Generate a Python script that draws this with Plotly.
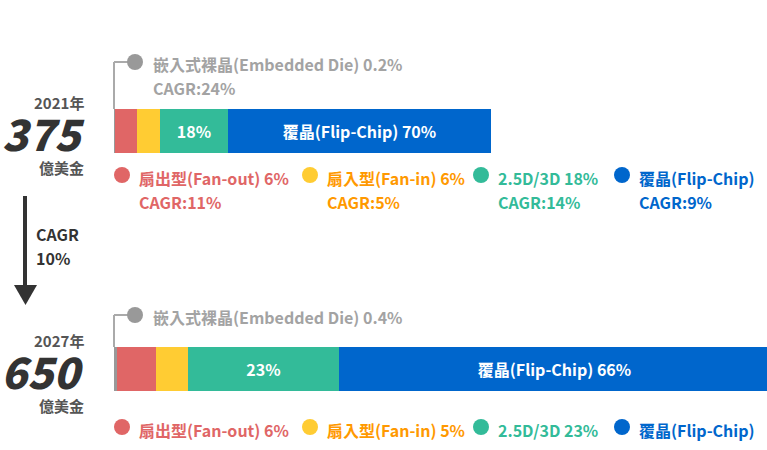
import plotly.graph_objects as go

W, H = 767, 450

# ---------------- data ----------------
years = ["2021年", "2027年"]
totals = [375, 650]                     # 億美金
total_cagr = "10%"
segments = ["嵌入式裸晶(Embedded Die)", "扇出型(Fan-out)", "扇入型(Fan-in)", "2.5D/3D", "覆晶(Flip-Chip)"]
share_2021 = [0.2, 6, 6, 18, 70]        # %
share_2027 = [0.4, 6, 5, 23, 66]        # %
segment_cagr = ["24%", "11%", "5%", "14%", "9%"]
bar_text_2021 = ["", "", "", "18%", "覆晶(Flip-Chip) 70%"]
bar_text_2027 = ["", "", "", "23%", "覆晶(Flip-Chip) 66%"]

bar_colors = ["#999999", "#e06666", "#ffcc33", "#33bb99", "#0066cc"]
text_colors = ["#a3a3a3", "#e06666", "#ff9900", "#33bb99", "#0066cc"]

FONT = "Noto Sans CJK TC"
FS = 16

# ---------------- helpers (pixel -> paper) ----------------
def px(x):
    return x / W

def py(y):
    return 1 - y / H

fig = go.Figure()

shares = [share_2021, share_2027]
texts = [bar_text_2021, bar_text_2027]
for i, seg in enumerate(segments):
    fig.add_trace(go.Bar(
        y=[0, 1],
        x=[shares[k][i] / 100 * totals[k] for k in range(2)],
        orientation="h",
        width=0.185,
        marker=dict(color=bar_colors[i], line=dict(width=0)),
        text=[texts[k][i] for k in range(2)],
        textposition="inside",
        insidetextanchor="middle",
        textfont=dict(family=FONT, size=FS, color="white", weight=700),
        constraintext="none",
        name=seg,
        showlegend=False,
        hoverinfo="skip",
    ))

# axes: bars start at pixel 114, 650 reaches right edge
plot_w = W - 114
x0 = -114 * totals[1] / plot_w
fig.update_xaxes(range=[x0, totals[1]], visible=False, fixedrange=True)
# y: bar 0 center at 131px, bar 1 center at 369px
gap = 369 - 131
r_top = -131 / gap
r_bot = r_top + H / gap
fig.update_yaxes(range=[r_bot, r_top], visible=False, fixedrange=True)

shapes = []
ann = []

def text(x, y, s, size=FS, color="#555", anchor="left", weight=700, family=FONT,
         italic=False):
    ann.append(dict(
        x=px(x), y=py(y), xref="paper", yref="paper", text=s, showarrow=False,
        xanchor=anchor, yanchor="middle",
        font=dict(family=family, size=size, color=color, weight=weight,
                  style="italic" if italic else "normal"),
    ))

def dot(cx, cy, r, color):
    shapes.append(dict(type="circle", xref="paper", yref="paper",
                       x0=px(cx - r), x1=px(cx + r), y0=py(cy + r), y1=py(cy - r),
                       fillcolor=color, line=dict(width=0), layer="above"))

def line(xa, ya, xb, yb, color, width):
    shapes.append(dict(type="line", xref="paper", yref="paper",
                       x0=px(xa), y0=py(ya), x1=px(xb), y1=py(yb),
                       line=dict(color=color, width=width), layer="above"))

# ----- left totals -----
bar_centers = [131, 369]
for k in range(2):
    c = bar_centers[k]
    text(86, c - 29, years[k], size=15, color="#555", anchor="right")
    text(87, c + 1, str(totals[k]), size=43, color="#333", anchor="right",
         weight=900, italic=True)
    text(86, c + 36, "億美金", size=15, color="#555", anchor="right")

# ----- CAGR arrow -----
line(25, 196, 25, 288, "#333", 4)
shapes.append(dict(type="path", xref="paper", yref="paper",
                   path=f"M {px(14)},{py(285)} L {px(37)},{py(285)} L {px(25.5)},{py(305)} Z",
                   fillcolor="#333", line=dict(width=0)))
text(34, 234, "CAGR", size=FS, color="#333")
text(34, 258, total_cagr, size=FS, color="#333")

# ----- embedded die callouts -----
bar_tops = [109, 347]
call_y = [62, 315]
for k in range(2):
    line(114, bar_tops[k], 114, call_y[k], "#aaaaaa", 2)
    line(114, call_y[k], 130, call_y[k], "#aaaaaa", 2)
    dot(135, call_y[k], 8, bar_colors[0])
    text(151, call_y[k] + 2, f"{segments[0]} {shares[k][0]}%", color=text_colors[0])
text(151, 88, f"CAGR:{segment_cagr[0]}", color=text_colors[0])

# ----- legend rows -----
dot_x = [122, 310, 481, 622]
row_y = [176, 428]
for k in range(2):
    for j, i in enumerate(range(1, 5)):
        dot(dot_x[j], row_y[k] - 1, 8, bar_colors[i])
        label = segments[i] if i == 4 else f"{segments[i]} {shares[k][i]}%"
        text(dot_x[j] + 15, row_y[k] + 2, label, color=text_colors[i])
        if k == 0:
            text(dot_x[j] + 15, row_y[k] + 26, f"CAGR:{segment_cagr[i]}", color=text_colors[i])

fig.update_layout(
    width=W, height=H,
    margin=dict(l=0, r=0, t=0, b=0),
    paper_bgcolor="white", plot_bgcolor="white",
    barmode="stack", bargap=0,
    shapes=shapes, annotations=ann,
)

fig.write_html("out.html", config={"displayModeBar": False},
               post_script="document.body.style.margin='0';document.body.style.padding='0';")
